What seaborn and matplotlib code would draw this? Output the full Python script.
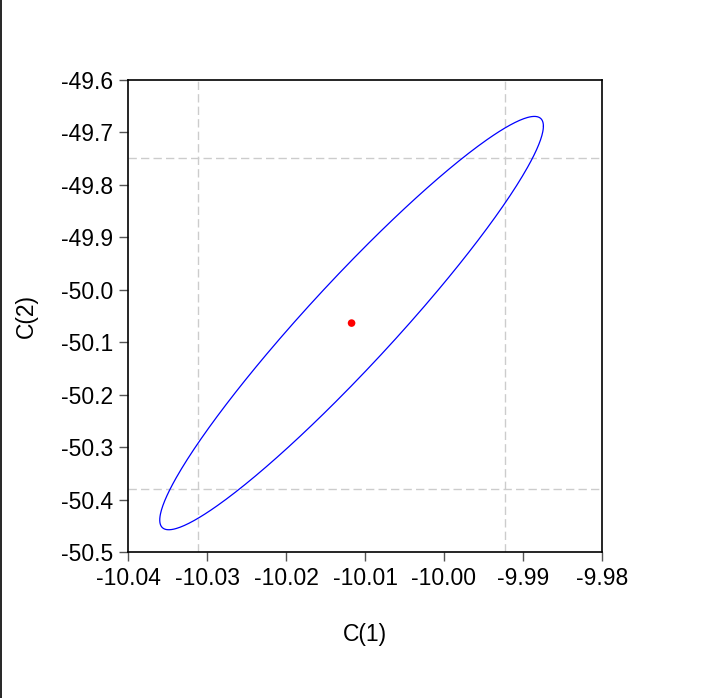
import numpy as np
import pandas as pd
import matplotlib
matplotlib.use("Agg")
import matplotlib.pyplot as plt
from matplotlib.lines import Line2D
import seaborn as sns

# Estimated coefficients and their standard errors / correlation
coef_names = ["C(1)", "C(2)"]
center = [-10.0117, -50.0635]
std_err = [0.00992, 0.1610]
corr = 0.953
z_individual = 1.96           # individual 95% interval
chi2_joint = 5.991            # joint 95% (chi-square, 2 df)

x_ticks = [-10.04, -10.03, -10.02, -10.01, -10.00, -9.99, -9.98]
y_ticks = [-50.5, -50.4, -50.3, -50.2, -50.1, -50.0, -49.9, -49.8, -49.7, -49.6]

sns.set_theme(style="white")
plt.rcParams['font.family'] = ['Liberation Sans', 'DejaVu Sans']

# Ellipse from covariance
cov = np.array([[std_err[0]**2, corr*std_err[0]*std_err[1]],
                [corr*std_err[0]*std_err[1], std_err[1]**2]])
L = np.linalg.cholesky(cov)
t = np.linspace(0, 2*np.pi, 400)
circ = np.vstack([np.cos(t), np.sin(t)]) * np.sqrt(chi2_joint)
pts = L @ circ
ell = pd.DataFrame({"x": pts[0] + center[0], "y": pts[1] + center[1], "i": np.arange(len(t))})

fig = plt.figure(figsize=(7.03, 6.98), dpi=100)
ax = fig.add_axes([128/703, 1-552/698, 474/703, 472/698])

# individual interval lines
for v in [center[0] - z_individual*std_err[0], center[0] + z_individual*std_err[0]]:
    ax.axvline(v, color="#cccccc", lw=1, ls=(0, (6, 3)), zorder=1)
for v in [center[1] - z_individual*std_err[1], center[1] + z_individual*std_err[1]]:
    ax.axhline(v, color="#cccccc", lw=1, ls=(0, (6, 3)), zorder=1)

sns.lineplot(data=ell, x="x", y="y", sort=False, estimator=None, color="#0000ff",
             lw=0.9, ax=ax, zorder=3)
sns.scatterplot(x=[center[0]], y=[center[1]], color="#ff0000", s=30, edgecolor="none",
                ax=ax, zorder=4)

ax.set_xlim(-10.04, -9.98)
ax.set_ylim(-50.5, -49.6)
ax.set_xticks(x_ticks)
ax.set_xticklabels([f"{v:.2f}" for v in x_ticks])
ax.set_yticks(y_ticks)
ax.set_yticklabels([f"{v:.1f}" for v in y_ticks])
ax.tick_params(axis="both", direction="out", length=6.5, width=1, color="#555555",
               labelsize=16.5, labelcolor="black", pad=4, bottom=True, left=True)
for s in ax.spines.values():
    s.set_color("black")
    s.set_linewidth(1.2)
ax.set_xlabel(coef_names[0], fontsize=16.5, color="black", labelpad=24)
ax.set_ylabel(coef_names[1], fontsize=16.5, color="black", labelpad=17)
ax.grid(False)

fig.add_artist(Line2D([0.7/703, 0.7/703], [0, 1], color="black", lw=1.2, transform=fig.transFigure))

fig.savefig("out.png", dpi=100)
